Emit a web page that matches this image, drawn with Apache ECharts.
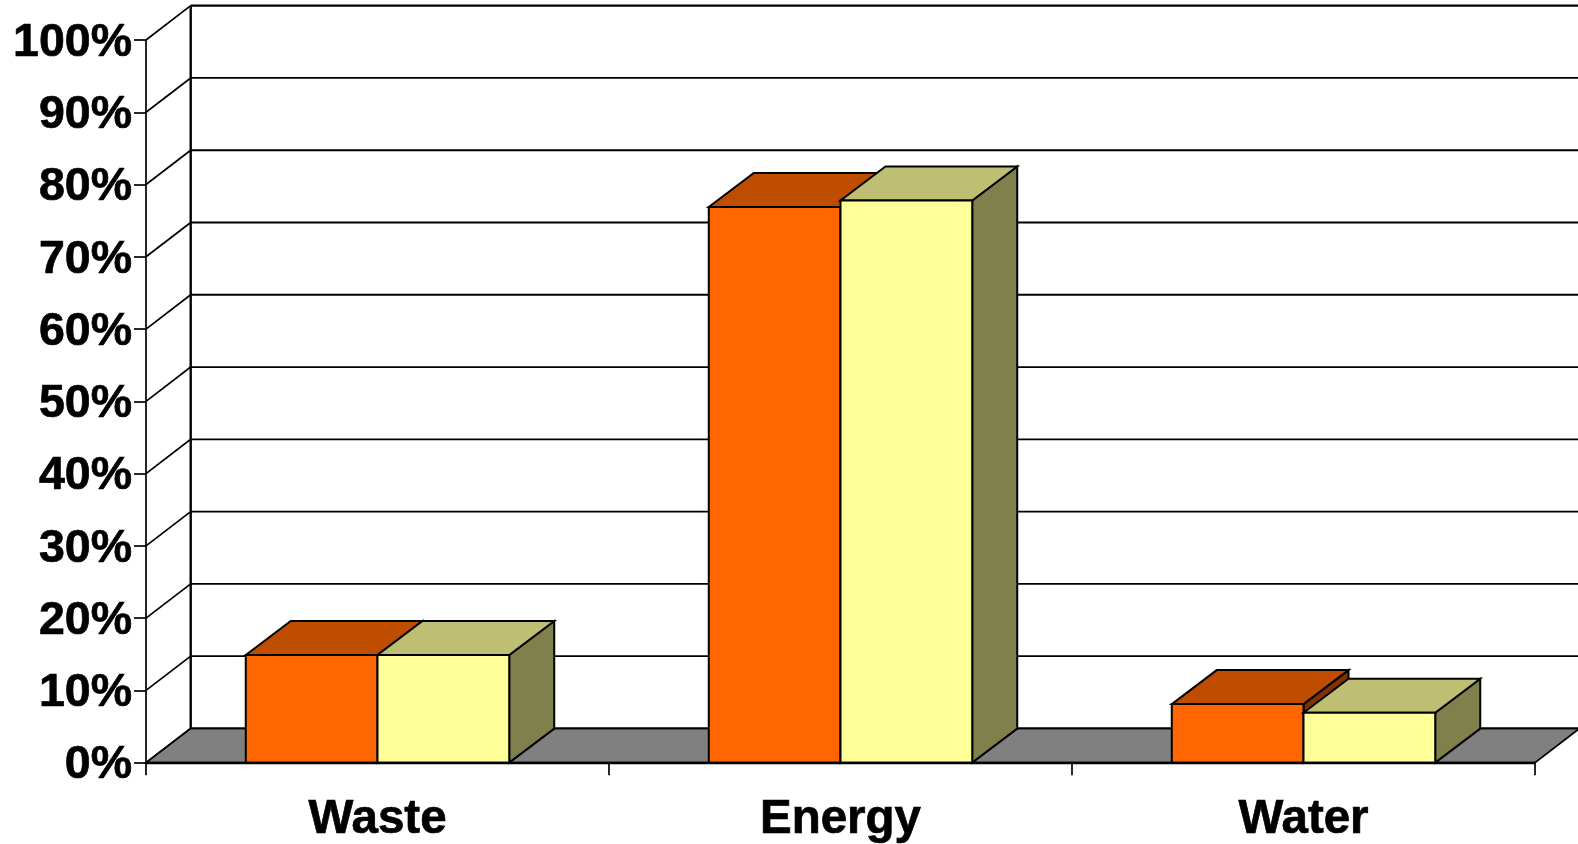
<!DOCTYPE html>
<html>
<head>
<meta charset="utf-8">
<style>html,body{margin:0;padding:0;background:#fff}#c{width:1578px;height:844px}</style>
<script src="https://cdn.jsdelivr.net/npm/echarts@6/dist/echarts.min.js"></script>
</head>
<body>
<div id="c"></div>
<script>
var categories = ['Waste', 'Energy', 'Water'];
var seriesA = [14.9, 76.9, 8.1];
var seriesB = [14.9, 77.8, 6.9];
var wallTicks = [0, 10, 20, 30, 40, 50, 60, 70, 80, 90, 100];

var WALL_DX = 44.7, WALL_DY = 34.3, BAR_DX = 45, BAR_DY = 34, BAR_FRAC = 0.2845;
var LINE = '#000000';

function boxRenderer(colors, side) {
  return function (params, api) {
    var c = api.coord([api.value(0), api.value(1)]);
    var base = api.coord([api.value(0), 0]);
    var w = api.size([1, 0])[0] * BAR_FRAC;
    var x0 = side < 0 ? c[0] - w : c[0];
    var x1 = x0 + w;
    var yt = c[1], yb = base[1];
    var st = { stroke: LINE, lineWidth: 2, lineJoin: 'miter' };
    function poly(pts, fill) {
      return { type: 'polygon', shape: { points: pts }, style: Object.assign({ fill: fill }, st) };
    }
    return {
      type: 'group',
      children: [
        poly([[x1, yt], [x1 + BAR_DX, yt - BAR_DY], [x1 + BAR_DX, yb - BAR_DY], [x1, yb]], colors.side),
        poly([[x0, yt], [x0 + BAR_DX, yt - BAR_DY], [x1 + BAR_DX, yt - BAR_DY], [x1, yt]], colors.top),
        poly([[x0, yt], [x1, yt], [x1, yb], [x0, yb]], colors.front)
      ]
    };
  };
}

var option = {
  animation: false,
  backgroundColor: '#ffffff',
  grid: { left: 146, right: 43, top: 40, bottom: 81.3, containLabel: false },
  xAxis: {
    type: 'category',
    data: categories,
    axisLine: { lineStyle: { color: LINE, width: 2.4 } },
    axisTick: { show: true, alignWithLabel: false, length: 12.5, lineStyle: { color: LINE, width: 1.7 } },
    axisLabel: { color: '#000', fontFamily: 'Liberation Sans', fontWeight: 'bold', fontSize: 47.5, margin: 33,
      textBorderColor: '#000', textBorderWidth: 0.7 },
    splitLine: { show: false },
    z: 10
  },
  yAxis: {
    type: 'value', min: 0, max: 100, interval: 10,
    axisLine: { show: true, lineStyle: { color: LINE, width: 1.7 } },
    axisTick: { show: true, length: 12, lineStyle: { color: LINE, width: 1.7 } },
    axisLabel: { color: '#000', fontFamily: 'Liberation Sans', fontWeight: 'bold', fontSize: 46.5, margin: 14,
      textBorderColor: '#000', textBorderWidth: 0.7,
      rich: { t: { color: '#000', fontFamily: 'Liberation Sans', fontWeight: 'bold', fontSize: 46.5,
        padding: [6, 0, 0, 0], textBorderColor: '#000', textBorderWidth: 0.7 } },
      formatter: function (v) { return '{t|' + v + '%}'; } },
    splitLine: { show: false },
    z: 10
  },
  series: [
    {
      type: 'custom', clip: false, silent: true, z: 1,
      data: wallTicks.map(function (v) { return [0, v]; }),
      renderItem: function (params, api) {
        var cs = params.coordSys;
        var p = api.coord([0, api.value(1)]);
        var left = cs.x, right = cs.x + cs.width, y = p[1];
        var isTop = api.value(1) === wallTicks[wallTicks.length - 1];
        var st = { stroke: LINE, lineWidth: 1.7 };
        var kids = [
          { type: 'line', shape: { x1: left, y1: y, x2: left + WALL_DX, y2: y - WALL_DY }, style: st },
          { type: 'line', shape: { x1: left + WALL_DX, y1: y - WALL_DY, x2: right + WALL_DX, y2: y - WALL_DY },
            style: { stroke: LINE, lineWidth: isTop ? 2.2 : 1.8 } }
        ];
        if (api.value(1) === wallTicks[0]) {
          kids.unshift({ type: 'polygon',
            shape: { points: [[left, y], [left + WALL_DX, y - WALL_DY], [right + WALL_DX, y - WALL_DY], [right, y]] },
            style: { fill: '#808080', stroke: LINE, lineWidth: 1.7 } });
          kids.push({ type: 'line', shape: { x1: left + WALL_DX, y1: y - WALL_DY, x2: left + WALL_DX, y2: cs.y - WALL_DY },
            style: { stroke: LINE, lineWidth: 2.4 } });
        }
        return { type: 'group', children: kids };
      }
    },
    {
      type: 'custom', clip: false, silent: true, z: 3,
      data: seriesA.map(function (v, i) { return [i, v]; }),
      renderItem: boxRenderer({ front: '#FF6600', top: '#BF4D00', side: '#803300' }, -1)
    },
    {
      type: 'custom', clip: false, silent: true, z: 4,
      data: seriesB.map(function (v, i) { return [i, v]; }),
      renderItem: boxRenderer({ front: '#FFFF99', top: '#BFBF73', side: '#80804D' }, 1)
    }
  ]
};
echarts.init(document.getElementById('c'), null, { renderer: 'canvas' }).setOption(option);
</script>
</body>
</html>
